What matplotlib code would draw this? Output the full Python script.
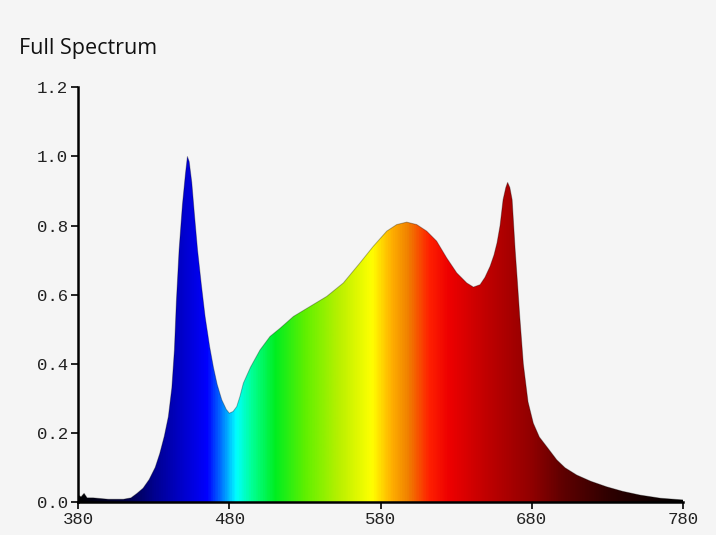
import numpy as np
import matplotlib
matplotlib.use('Agg')
import matplotlib.pyplot as plt
from matplotlib.colors import LinearSegmentedColormap, Normalize

# Spectrum (wavelength in nm, relative intensity)
wavelength = [380, 382, 384, 386, 390, 395, 400, 405, 410, 415, 419, 423, 427, 431, 434,
              437, 439.7, 442, 443.7, 445, 446.8, 449, 451, 452.3, 453.5, 455.2, 457,
              459, 461.5, 464, 467, 469.5, 472, 475, 478, 480, 482.5, 484.9, 487, 489.3,
              494, 500.3, 506.9, 513.6, 522.4, 533.4, 544.4, 555.4, 566.4, 575.2, 584.1,
              590.7, 597.3, 603.9, 610.5, 617.1, 623.8, 630.4, 637, 641.4, 645.8, 649,
              652.4, 655, 657, 659, 661, 662.8, 664, 665.5, 667, 669, 670.4, 672, 674.4,
              677.5, 681, 685, 689.9, 696.5, 702, 709.7, 719, 729.5, 740, 751.6, 765, 780]
intensity = [0.02, 0.015, 0.025, 0.012, 0.012, 0.01, 0.008, 0.008, 0.008, 0.012, 0.025,
             0.04, 0.065, 0.10, 0.14, 0.19, 0.247, 0.33, 0.44, 0.58, 0.73, 0.86, 0.95,
             1.0, 0.985, 0.925, 0.83, 0.73, 0.63, 0.537, 0.45, 0.39, 0.34, 0.296, 0.268,
             0.257, 0.262, 0.276, 0.305, 0.344, 0.39, 0.44, 0.479, 0.503, 0.537, 0.566,
             0.595, 0.634, 0.692, 0.74, 0.784, 0.803, 0.81, 0.803, 0.784, 0.755, 0.706,
             0.663, 0.634, 0.622, 0.629, 0.65, 0.682, 0.715, 0.75, 0.80, 0.875, 0.91,
             0.925, 0.91, 0.875, 0.73, 0.643, 0.54, 0.40, 0.29, 0.228, 0.188, 0.16,
             0.122, 0.099, 0.078, 0.06, 0.044, 0.031, 0.02, 0.011, 0.006]

xticks = [380, 480, 580, 680, 780]
yticks = [0.0, 0.2, 0.4, 0.6, 0.8, 1.0, 1.2]

# colour of light for each wavelength
spec_nodes = [380, 410, 430, 450, 465, 475, 484, 495, 510, 530, 552, 574, 587, 598,
              612, 625, 650, 680, 700, 730, 760, 780]
spec_colors = ['#000000', '#000040', '#000090', '#0000d0', '#0000ff', '#0080ff',
               '#00ffff', '#00ff90', '#00ee20', '#60f000', '#b8f000', '#ffff00',
               '#ffb000', '#f08000', '#ff2000', '#ee0000', '#c00000', '#900000',
               '#600000', '#300000', '#100000', '#000000']

bg = '#f5f5f5'
pos = [(v - 380) / 400 for v in spec_nodes]
cmap = LinearSegmentedColormap.from_list('spec', list(zip(pos, spec_colors)))

fig = plt.figure(figsize=(7.16, 5.35), dpi=100, facecolor=bg)
ax = fig.add_axes([0.109, 0.0617, 0.845, 0.775])
ax.set_facecolor(bg)

poly = ax.fill(wavelength + [780, 380], intensity + [0, 0],
               facecolor='none', edgecolor='none')[0]
grad = np.linspace(380, 780, 1200)[None, :]
im = ax.imshow(grad, extent=[380, 780, 0, 1.2], aspect='auto', cmap=cmap,
               norm=Normalize(380, 780), origin='lower', interpolation='bilinear')
im.set_clip_path(poly)
ax.plot(wavelength, intensity, color='black', lw=0.7, alpha=0.3)

ax.set_xlim(380, 780)
ax.set_ylim(0, 1.2)
ax.set_xticks(xticks)
ax.set_yticks(yticks)
ax.set_yticklabels([f'{v:.1f}' for v in yticks])
for s in ['top', 'right']:
    ax.spines[s].set_visible(False)
for s in ['left', 'bottom']:
    ax.spines[s].set_linewidth(1.8)
    ax.spines[s].set_color('black')
ax.tick_params(length=5, width=1.2, color='black', labelsize=12.5, pad=2)
for lab in ax.get_xticklabels() + ax.get_yticklabels():
    lab.set_fontfamily('Liberation Mono')
    lab.set_color('#222222')

fig.text(0.027, 0.91, 'Full Spectrum', fontsize=15.5, family='Open Sans',
         color='#111111', va='center')

fig.savefig('out.png', dpi=100, facecolor=bg)
